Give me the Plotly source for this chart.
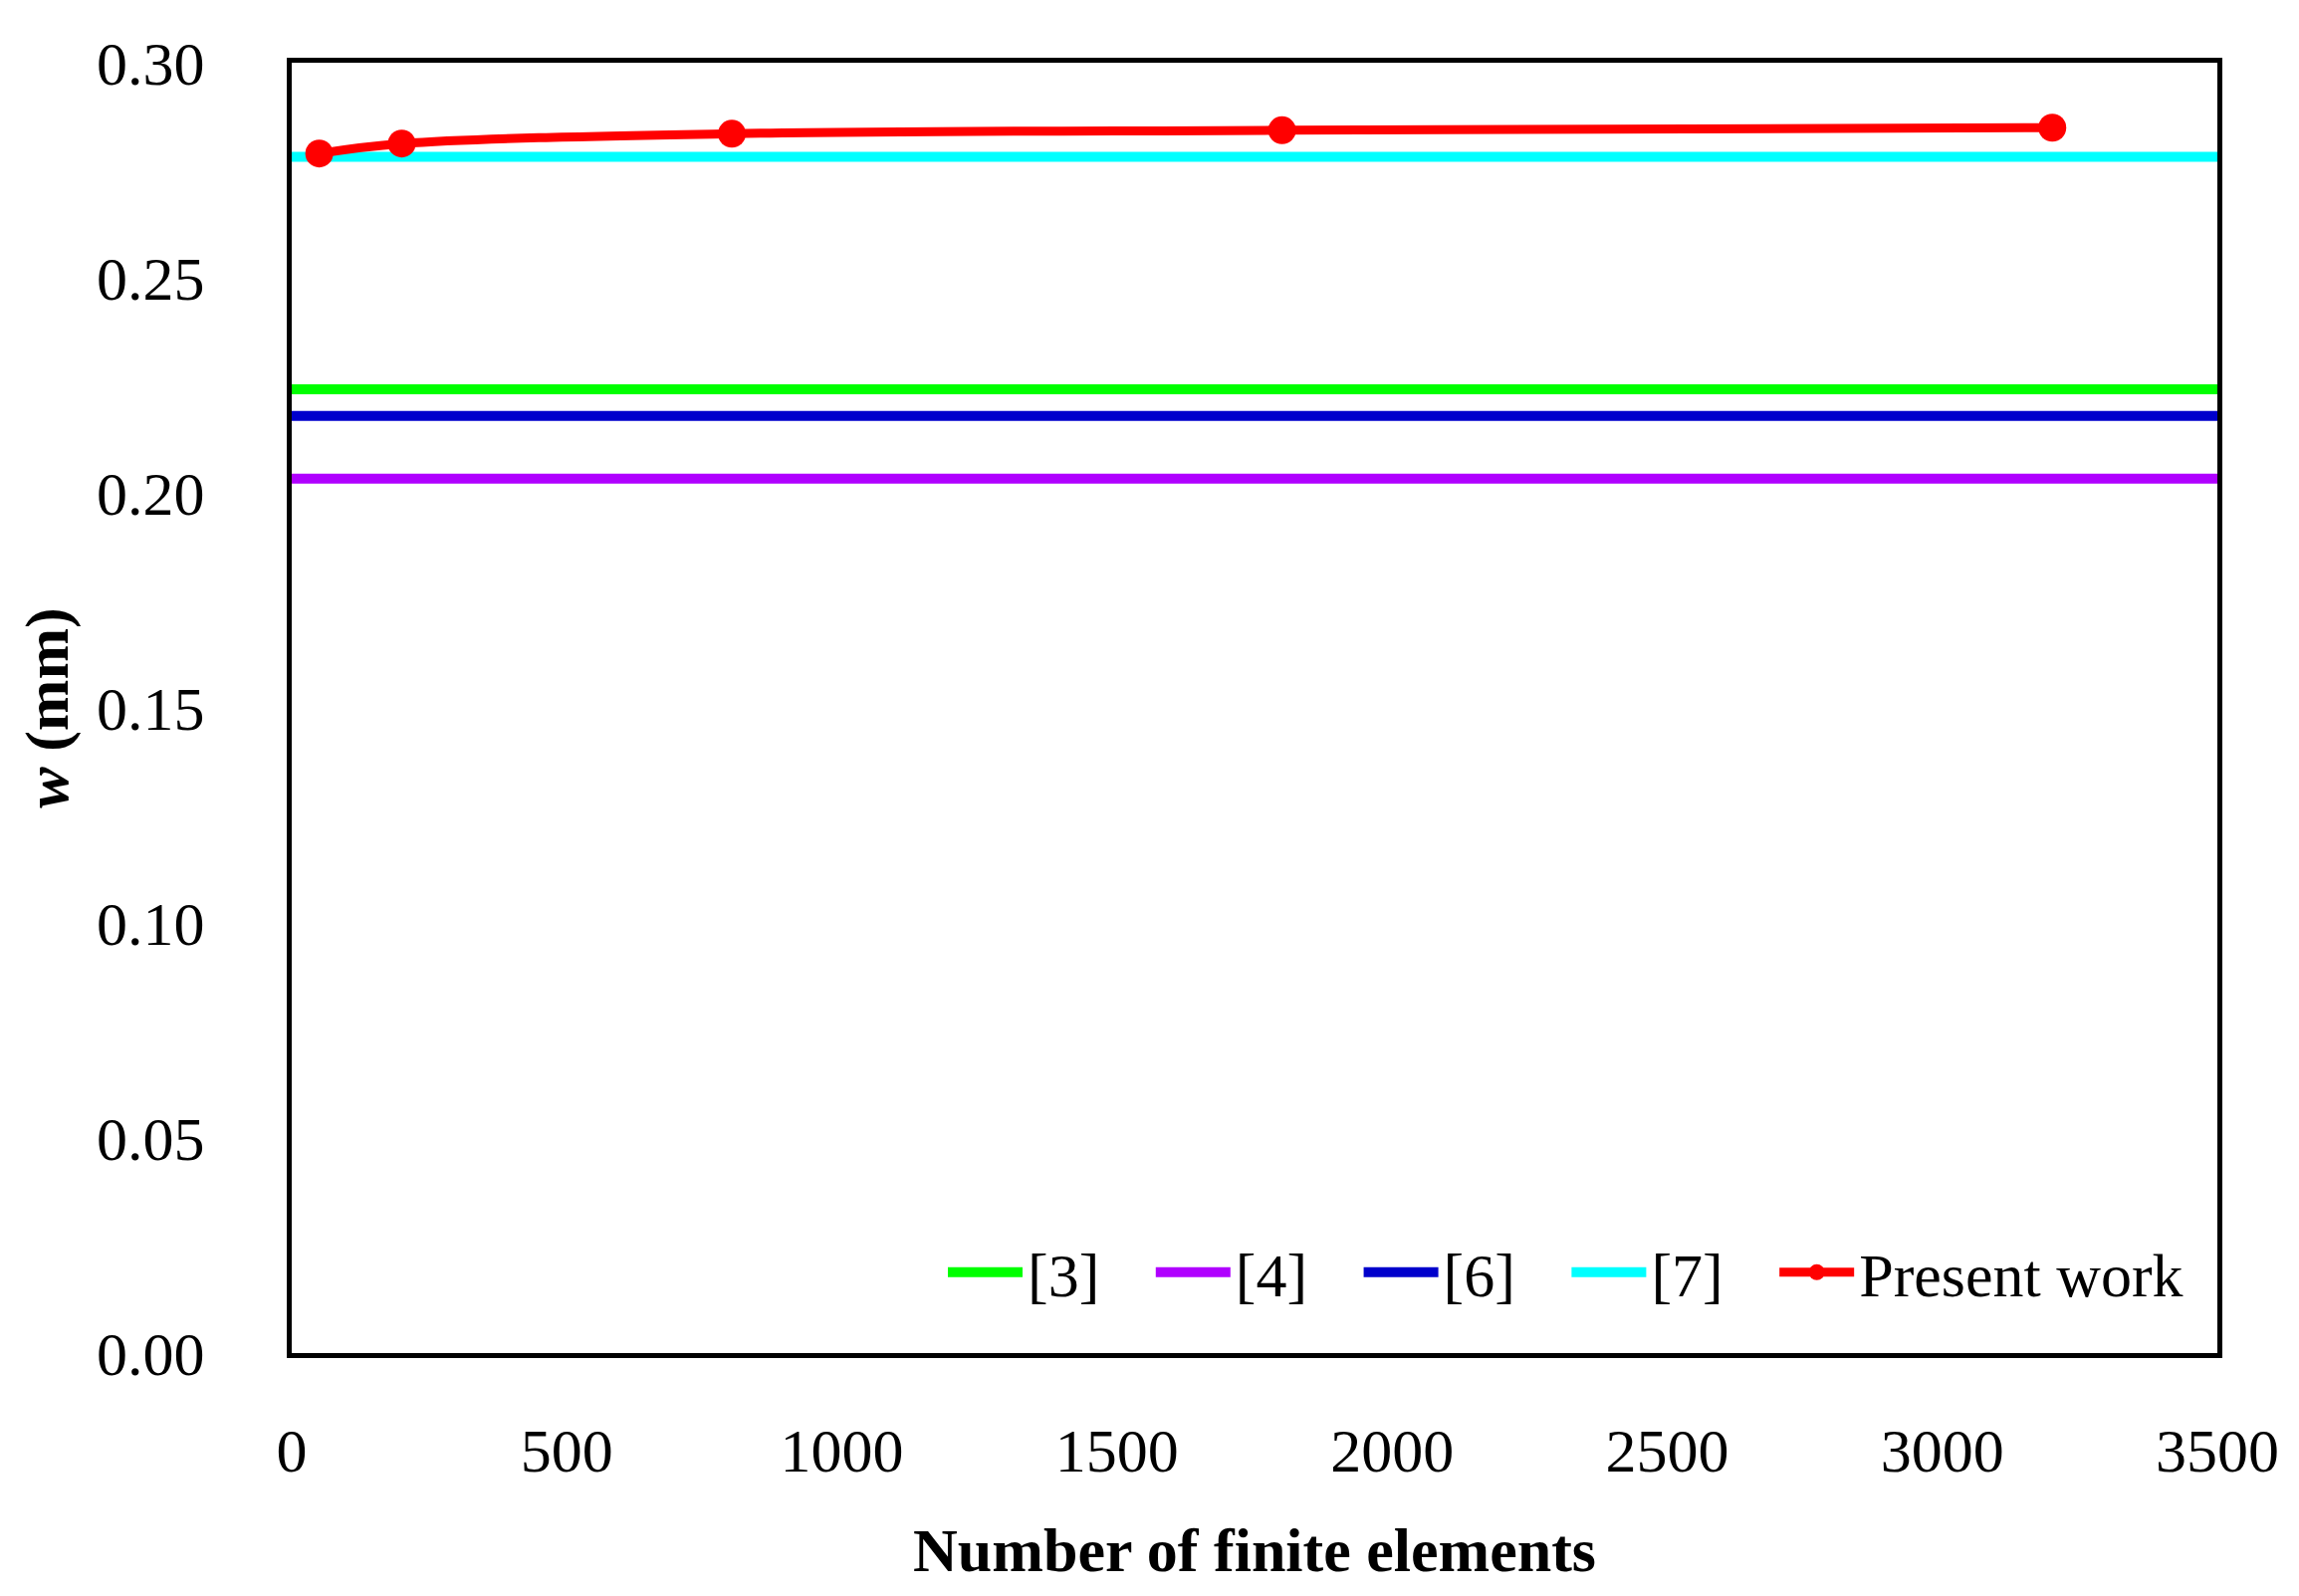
import plotly.graph_objects as go

# Data
elements = [50, 200, 800, 1800, 3200]
present_work = [0.2789, 0.2812, 0.2835, 0.2843, 0.2849]

ref_names = ["[3]", "[4]", "[6]", "[7]"]
ref_values = [0.2241, 0.2033, 0.2179, 0.2781]
ref_colors = ["#00FF00", "#B000FF", "#0000CC", "#00FFFF"]

x_range = [0, 3500]
x_ticks = [0, 500, 1000, 1500, 2000, 2500, 3000, 3500]
y_ticks = [0.00, 0.05, 0.10, 0.15, 0.20, 0.25, 0.30]

FONT = "Liberation Serif"
PAD = "\u00a0" * 3

fig = go.Figure()
for name, val, col in zip(ref_names, ref_values, ref_colors):
    fig.add_trace(go.Scatter(
        x=x_range, y=[val, val], mode="lines", name=name + PAD,
        line=dict(color=col, width=10),
    ))

fig.add_trace(go.Scatter(
    x=elements, y=present_work, mode="lines+markers", name="Present work",
    line=dict(color="#FF0000", width=9, shape="spline"),
    marker=dict(color="#FF0000", size=28),
))

fig.update_layout(
    width=2309, height=1603,
    paper_bgcolor="white", plot_bgcolor="white",
    margin=dict(l=285, r=90, t=55, b=252),
    font=dict(family=FONT, size=62, color="black"),
    legend=dict(
        orientation="h", x=0.985, y=0.0625, xanchor="right", yanchor="middle",
        bgcolor="rgba(0,0,0,0)", font=dict(family=FONT, size=62, color="black"),
        itemwidth=75, tracegroupgap=0,
    ),
    showlegend=True,
)

fig.update_xaxes(
    range=x_range, tickvals=x_ticks, ticktext=[str(v) for v in x_ticks],
    showgrid=False, zeroline=False, showline=True, linecolor="black", linewidth=5,
    mirror=True, ticks="", ticklabelstandoff=40,
    title=dict(text="<b>Number of finite elements</b>", font=dict(family=FONT, size=62), standoff=46),
)
fig.update_yaxes(
    range=[0, 0.30], tickvals=y_ticks, ticktext=[f"{v:.2f}" for v in y_ticks],
    showgrid=False, zeroline=False, showline=True, linecolor="black", linewidth=5,
    mirror=True, ticks="", ticklabelstandoff=70,
    title=dict(text="<b><i>w</i> (mm)</b>", font=dict(family=FONT, size=62), standoff=10),
)

fig.write_html("out.html")
